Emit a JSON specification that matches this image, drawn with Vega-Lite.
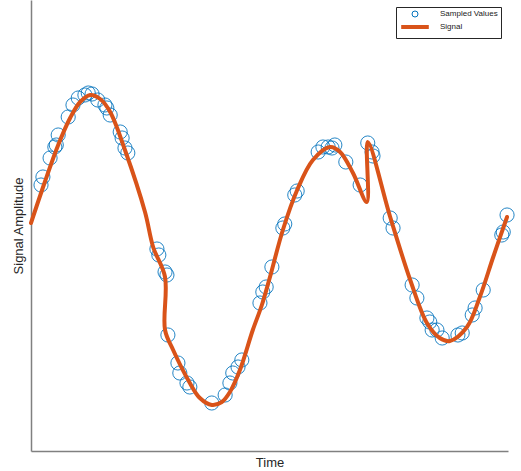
{
  "$schema": "https://vega.github.io/schema/vega-lite/v6.json",
  "autosize": {"type": "none"},
  "width": 477,
  "height": 451,
  "padding": {"left": 31, "top": 0, "right": 13, "bottom": 20},
  "background": "white",
  "config": {
    "view": {"stroke": null},
    "font": "Liberation Sans",
    "axis": {"domainColor": "#808080", "domainWidth": 1.5, "ticks": false, "labels": false, "grid": false, "titleFont": "Liberation Sans", "titleFontSize": 13, "titleFontWeight": "normal", "titleColor": "#262626"}
  },
  "datasets": {
    "samples": [
      {"t": 0.21, "a": 0.40}, {"t": 0.25, "a": 0.48}, {"t": 0.40, "a": 0.67}, {"t": 0.50, "a": 0.78}, {"t": 0.53, "a": 0.80},
      {"t": 0.57, "a": 0.90}, {"t": 0.78, "a": 1.08}, {"t": 0.88, "a": 1.20}, {"t": 0.99, "a": 1.27}, {"t": 1.13, "a": 1.30},
      {"t": 1.20, "a": 1.32}, {"t": 1.28, "a": 1.31}, {"t": 1.40, "a": 1.25}, {"t": 1.55, "a": 1.20}, {"t": 1.59, "a": 1.17}, {"t": 1.66, "a": 1.10},
      {"t": 1.87, "a": 0.93}, {"t": 1.91, "a": 0.87}, {"t": 1.97, "a": 0.77}, {"t": 2.03, "a": 0.72},
      {"t": 2.64, "a": -0.24}, {"t": 2.68, "a": -0.30}, {"t": 2.81, "a": -0.47}, {"t": 2.85, "a": -0.50},
      {"t": 2.87, "a": -1.10}, {"t": 3.08, "a": -1.38}, {"t": 3.12, "a": -1.48}, {"t": 3.27, "a": -1.58}, {"t": 3.33, "a": -1.62},
      {"t": 3.79, "a": -1.78}, {"t": 4.07, "a": -1.70}, {"t": 4.17, "a": -1.58}, {"t": 4.23, "a": -1.48}, {"t": 4.34, "a": -1.42}, {"t": 4.42, "a": -1.35},
      {"t": 4.80, "a": -0.78}, {"t": 4.86, "a": -0.67}, {"t": 4.93, "a": -0.62}, {"t": 5.05, "a": -0.42},
      {"t": 5.28, "a": -0.03}, {"t": 5.32, "a": 0.01}, {"t": 5.53, "a": 0.30}, {"t": 5.58, "a": 0.34},
      {"t": 6.02, "a": 0.73}, {"t": 6.12, "a": 0.78}, {"t": 6.23, "a": 0.78}, {"t": 6.31, "a": 0.77}, {"t": 6.37, "a": 0.80},
      {"t": 6.60, "a": 0.63}, {"t": 6.90, "a": 0.40}, {"t": 7.06, "a": 0.82}, {"t": 7.15, "a": 0.73}, {"t": 7.17, "a": 0.69},
      {"t": 7.53, "a": 0.07}, {"t": 7.59, "a": -0.03}, {"t": 7.99, "a": -0.60}, {"t": 8.09, "a": -0.73},
      {"t": 8.30, "a": -0.93}, {"t": 8.36, "a": -0.97}, {"t": 8.41, "a": -1.05}, {"t": 8.51, "a": -1.05}, {"t": 8.62, "a": -1.13},
      {"t": 8.95, "a": -1.10}, {"t": 9.04, "a": -1.08}, {"t": 9.25, "a": -0.90}, {"t": 9.31, "a": -0.83}, {"t": 9.48, "a": -0.65},
      {"t": 9.87, "a": -0.10}, {"t": 9.90, "a": -0.07}, {"t": 9.98, "a": 0.10}
    ],
    "signal": [
      {"i": 0, "t": 0.00, "a": 0.02}, {"i": 1, "t": 0.29, "a": 0.43}, {"i": 2, "t": 0.57, "a": 0.80}, {"i": 3, "t": 0.82, "a": 1.07},
      {"i": 4, "t": 1.03, "a": 1.23}, {"i": 5, "t": 1.24, "a": 1.30}, {"i": 6, "t": 1.45, "a": 1.26}, {"i": 7, "t": 1.66, "a": 1.13},
      {"i": 8, "t": 1.97, "a": 0.75}, {"i": 9, "t": 2.39, "a": 0.13}, {"i": 10, "t": 2.56, "a": -0.22}, {"i": 11, "t": 2.81, "a": -0.52},
      {"i": 12, "t": 2.81, "a": -1.05}, {"i": 13, "t": 2.98, "a": -1.25}, {"i": 14, "t": 3.33, "a": -1.58}, {"i": 15, "t": 3.54, "a": -1.73},
      {"i": 16, "t": 3.79, "a": -1.80}, {"i": 17, "t": 4.00, "a": -1.77}, {"i": 18, "t": 4.17, "a": -1.67}, {"i": 19, "t": 4.38, "a": -1.45},
      {"i": 20, "t": 4.65, "a": -1.05}, {"i": 21, "t": 4.84, "a": -0.80}, {"i": 22, "t": 5.01, "a": -0.52}, {"i": 23, "t": 5.28, "a": -0.05},
      {"i": 24, "t": 5.58, "a": 0.35}, {"i": 25, "t": 5.91, "a": 0.65}, {"i": 26, "t": 6.27, "a": 0.78}, {"i": 27, "t": 6.48, "a": 0.73},
      {"i": 28, "t": 6.75, "a": 0.52}, {"i": 29, "t": 7.04, "a": 0.23}, {"i": 30, "t": 7.06, "a": 0.83}, {"i": 31, "t": 7.53, "a": 0.08},
      {"i": 32, "t": 7.95, "a": -0.55}, {"i": 33, "t": 8.30, "a": -0.98}, {"i": 34, "t": 8.57, "a": -1.13}, {"i": 35, "t": 8.78, "a": -1.16},
      {"i": 36, "t": 9.14, "a": -1.02}, {"i": 37, "t": 9.41, "a": -0.72}, {"i": 38, "t": 9.69, "a": -0.32}, {"i": 39, "t": 9.98, "a": 0.08}
    ]
  },
  "encoding": {
    "x": {"field": "t", "type": "quantitative", "title": "Time", "scale": {"domain": [0, 10], "nice": false, "zero": false}, "axis": {"titlePadding": 5}},
    "y": {"field": "a", "type": "quantitative", "title": "Signal Amplitude", "scale": {"domain": [-2.26, 2.25], "nice": false, "zero": false}, "axis": {"titlePadding": 6}}
  },
  "layer": [
    {
      "data": {"name": "samples"},
      "transform": [{"calculate": "'Sampled Values'", "as": "series"}],
      "mark": {"type": "point", "filled": false, "size": 200, "opacity": 0.85},
      "encoding": {
        "color": {
          "field": "series", "type": "nominal", "title": null,
          "scale": {"domain": ["Sampled Values", "Signal"], "range": ["#0072BD", "#D95319"]},
          "legend": {
            "orient": "top-right", "offset": 7,
            "strokeColor": "#262626", "fillColor": "white",
            "padding": 3, "rowPadding": 0, "labelFontSize": 8, "labelFont": "Liberation Sans", "labelColor": "#1a1a1a",
            "symbolSize": 36, "symbolOffset": 11, "labelOffset": 20, "symbolOpacity": 1,
            "encode": {
              "legend": {"update": {"strokeWidth": {"value": 0.8}}}
            }
          }
        },
        "shape": {
          "field": "series", "type": "nominal", "title": null,
          "scale": {"domain": ["Sampled Values", "Signal"], "range": ["circle", "M-4.6,0H4.6"]}
        },
        "strokeWidth": {
          "field": "series", "type": "nominal", "title": null,
          "scale": {"domain": ["Sampled Values", "Signal"], "range": [1, 4]}
        }
      }
    },
    {
      "data": {"name": "signal"},
      "transform": [{"calculate": "'Signal'", "as": "series"}],
      "mark": {"type": "line", "interpolate": "catmull-rom", "strokeJoin": "round", "strokeCap": "round"},
      "encoding": {
        "order": {"field": "i", "type": "quantitative"},
        "color": {"field": "series", "type": "nominal"},
        "strokeWidth": {"field": "series", "type": "nominal"}
      }
    }
  ]
}
